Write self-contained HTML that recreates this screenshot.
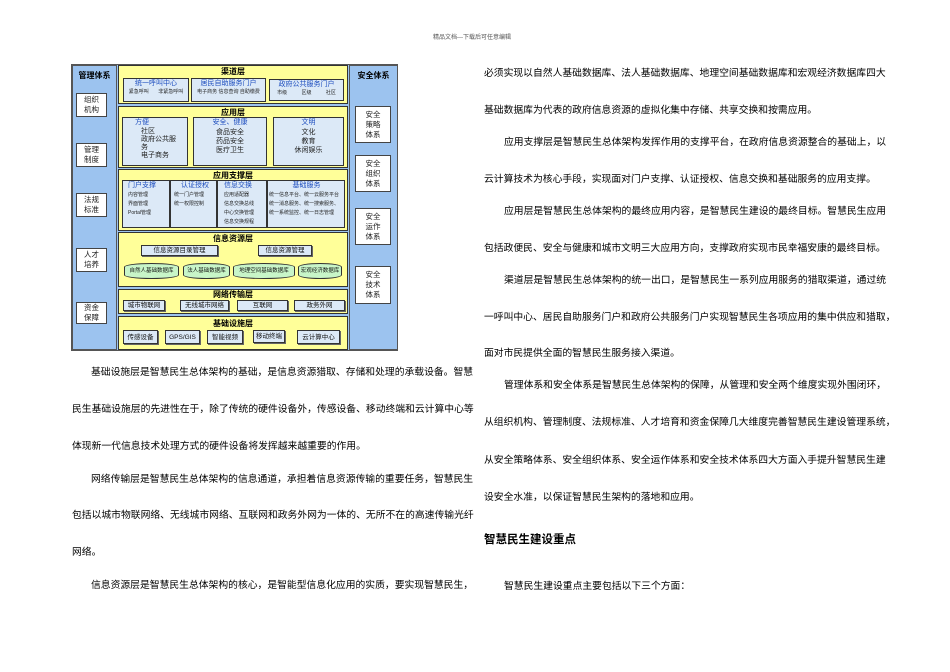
<!DOCTYPE html>
<html><head><meta charset="utf-8">
<style>
*{margin:0;padding:0;box-sizing:border-box}
body{width:950px;height:672px;background:#fff;position:relative;overflow:hidden;font-family:"Liberation Sans","Noto Sans CJK SC",sans-serif;color:#000}
.a{position:absolute}
.t{position:absolute;font-size:9.8px;line-height:12px;white-space:nowrap}
.col{background:#9cc3ef;border:1px solid #555}
.wb{position:absolute;background:#fff;border:1px solid #444;font-size:7.5px;line-height:10px;text-align:center;display:flex;align-items:center;justify-content:center;color:#222}
.ly{position:absolute;background:#ffff99;border:1.5px solid #333}
.lt{position:absolute;left:0;right:0;text-align:center;font-size:8px;font-weight:bold;line-height:10px}
.sb{position:absolute;background:#dce9f7;border:1px solid #333;font-size:5px;line-height:7px;color:#222}
.sh{font-size:7px;color:#1f4fbf;text-align:center;line-height:10px}
.bt{position:absolute;background:#dce9f7;border:1px solid #333;font-size:6.5px;text-align:center;line-height:10px;color:#111;box-shadow:1px 1px 0 #666}
.cy{position:absolute;background:#c8f5c8;border:1px solid #333;border-radius:50%/4px;font-size:5.5px;text-align:center;line-height:14px;color:#111;white-space:nowrap;overflow:hidden}
</style></head><body>
<div class="t" style="left:433px;top:32px;font-size:6px;color:#555">精品文档---下载后可任意编辑</div>

<!-- diagram -->
<div class="a" style="left:71px;top:64px;width:327px;height:287px;border:1px solid #555;background:#9cc3ef"></div>
<div class="a col" style="left:72px;top:65px;width:45px;height:285px"></div>
<div class="a" style="left:72px;top:70px;width:45px;text-align:center;font-size:8px;font-weight:bold">管理体系</div>
<div class="wb" style="left:76px;top:93px;width:31px;height:24px">组织<br>机构</div>
<div class="wb" style="left:76px;top:143px;width:31px;height:24px">管理<br>制度</div>
<div class="wb" style="left:76px;top:193px;width:31px;height:24px">法规<br>标准</div>
<div class="wb" style="left:76px;top:248px;width:31px;height:24px">人才<br>培养</div>
<div class="wb" style="left:76px;top:302px;width:31px;height:22px">资金<br>保障</div>

<div class="a col" style="left:349px;top:65px;width:49px;height:285px"></div>
<div class="a" style="left:349px;top:70px;width:49px;text-align:center;font-size:8px;font-weight:bold">安全体系</div>
<div class="wb" style="left:355px;top:106px;width:36px;height:37px">安全<br>策略<br>体系</div>
<div class="wb" style="left:355px;top:155px;width:36px;height:37px">安全<br>组织<br>体系</div>
<div class="wb" style="left:355px;top:208px;width:36px;height:37px">安全<br>运作<br>体系</div>
<div class="wb" style="left:355px;top:266px;width:36px;height:38px">安全<br>技术<br>体系</div>

<!-- 渠道层 -->
<div class="ly" style="left:118px;top:65px;width:230px;height:39px"><div class="lt" style="top:1px">渠道层</div></div>
<div class="sb" style="left:123px;top:78px;width:66px;height:24px"><div class="sh">统一呼叫中心</div><div style="display:flex;justify-content:space-around">
<span>紧急呼叫</span><span>非紧急呼叫</span></div></div>
<div class="sb" style="left:191px;top:78px;width:75px;height:24px"><div class="sh">居民自助服务门户</div><div style="text-align:center">电子商务 信息查询 自助缴费</div></div>
<div class="sb" style="left:269px;top:79px;width:75px;height:22px"><div class="sh">政府公共服务门户</div><div style="display:flex;justify-content:space-around"><span>市级</span><span>区级</span><span>社区</span></div></div>

<!-- 应用层 -->
<div class="ly" style="left:118px;top:106px;width:230px;height:62px"><div class="lt" style="top:1px">应用层</div></div>
<div class="sb" style="left:122px;top:117px;width:66px;height:49px;font-size:7px;line-height:8px"><div class="sh" style="text-align:left;padding-left:12px">方便</div><div style="padding-left:18px">社区<br>政府公共服<br>务<br>电子商务</div></div>
<div class="sb" style="left:193px;top:117px;width:74px;height:49px;font-size:7px;line-height:9px;text-align:center"><div class="sh">安全、健康</div>食品安全<br>药品安全<br>医疗卫生</div>
<div class="sb" style="left:273px;top:117px;width:71px;height:49px;font-size:7px;line-height:9px;text-align:center"><div class="sh">文明</div>文化<br>教育<br>休闲娱乐</div>

<!-- 应用支撑层 -->
<div class="ly" style="left:118px;top:169px;width:230px;height:62px"><div class="lt" style="top:1px">应用支撑层</div></div>
<div class="sb" style="left:122px;top:180px;width:48px;height:48px;line-height:9px;padding-left:5px"><div class="sh" style="text-align:left">门户支撑</div>内容管理<br>界面管理<br>Portal管理</div>
<div class="sb" style="left:170px;top:180px;width:47px;height:48px;line-height:9px;padding-left:3px"><div class="sh">认证授权</div>统一门户管理<br>统一权限控制</div>
<div class="sb" style="left:217px;top:180px;width:50px;height:48px;line-height:9px;padding-left:6px"><div class="sh" style="text-align:left">信息交换</div>应用适配器<br>信息交换总线<br>中心交换管理<br>信息交换规程</div>
<div class="sb" style="left:267px;top:180px;width:78px;height:48px;line-height:9px;padding-left:1px"><div class="sh">基础服务</div>统一信息平台、统一云服务平台<br>统一消息服务、统一搜索服务、<br>统一系统监控、统一日志管理</div>

<!-- 信息资源层 -->
<div class="ly" style="left:118px;top:232px;width:230px;height:55px"><div class="lt" style="top:1px">信息资源层</div></div>
<div class="bt" style="left:141px;top:245px;width:77px;height:11px">信息资源目录管理</div>
<div class="bt" style="left:258px;top:245px;width:54px;height:11px">信息资源管理</div>
<div class="cy" style="left:124px;top:263px;width:55px;height:16px">自然人基础数据库</div>
<div class="cy" style="left:183px;top:263px;width:47px;height:16px">法人基础数据库</div>
<div class="cy" style="left:233px;top:263px;width:62px;height:16px">地理空间基础数据库</div>
<div class="cy" style="left:298px;top:263px;width:44px;height:16px">宏观经济数据库</div>

<!-- 网络传输层 -->
<div class="ly" style="left:118px;top:289px;width:230px;height:25px"><div class="lt" style="top:0px">网络传输层</div></div>
<div class="bt" style="left:123px;top:300px;width:42px;height:11px">城市物联网</div>
<div class="bt" style="left:180px;top:300px;width:49px;height:11px">无线城市网络</div>
<div class="bt" style="left:237px;top:300px;width:51px;height:11px">互联网</div>
<div class="bt" style="left:294px;top:300px;width:51px;height:11px">政务外网</div>

<!-- 基础设施层 -->
<div class="ly" style="left:118px;top:316px;width:230px;height:34px"><div class="lt" style="top:2px">基础设施层</div></div>
<div class="bt" style="left:123px;top:330px;width:35px;height:14px;line-height:13px">传感设备</div>
<div class="bt" style="left:165px;top:330px;width:35px;height:14px;line-height:13px">GPS/GIS</div>
<div class="bt" style="left:207px;top:330px;width:36px;height:14px;line-height:13px">智能视频</div>
<div class="bt" style="left:253px;top:330px;width:32px;height:13px;line-height:12px">移动终端</div>
<div class="bt" style="left:297px;top:330px;width:43px;height:14px;line-height:13px">云计算中心</div>

<!-- left text -->
<div class="t" style="left:91px;top:367px">基础设施层是智慧民生总体架构的基础，是信息资源猎取、存储和处理的承载设备。智慧</div>
<div class="t" style="left:72px;top:404px">民生基础设施层的先进性在于，除了传统的硬件设备外，传感设备、移动终端和云计算中心等</div>
<div class="t" style="left:72px;top:441px">体现新一代信息技术处理方式的硬件设备将发挥越来越重要的作用。</div>
<div class="t" style="left:91px;top:474px">网络传输层是智慧民生总体架构的信息通道，承担着信息资源传输的重要任务，智慧民生</div>
<div class="t" style="left:72px;top:510px">包括以城市物联网络、无线城市网络、互联网和政务外网为一体的、无所不在的高速传输光纤</div>
<div class="t" style="left:72px;top:547px">网络。</div>
<div class="t" style="left:91px;top:580px">信息资源层是智慧民生总体架构的核心，是智能型信息化应用的实质，要实现智慧民生，</div>

<!-- right text -->
<div class="t" style="left:484px;top:68px">必须实现以自然人基础数据库、法人基础数据库、地理空间基础数据库和宏观经济数据库四大</div>
<div class="t" style="left:484px;top:105px">基础数据库为代表的政府信息资源的虚拟化集中存储、共享交换和按需应用。</div>
<div class="t" style="left:504px;top:137px">应用支撑层是智慧民生总体架构发挥作用的支撑平台，在政府信息资源整合的基础上，以</div>
<div class="t" style="left:484px;top:174px">云计算技术为核心手段，实现面对门户支撑、认证授权、信息交换和基础服务的应用支撑。</div>
<div class="t" style="left:504px;top:206px">应用层是智慧民生总体架构的最终应用内容，是智慧民生建设的最终目标。智慧民生应用</div>
<div class="t" style="left:484px;top:243px">包括政便民、安全与健康和城市文明三大应用方向，支撑政府实现市民幸福安康的最终目标。</div>
<div class="t" style="left:504px;top:275px">渠道层是智慧民生总体架构的统一出口，是智慧民生一系列应用服务的猎取渠道，通过统</div>
<div class="t" style="left:484px;top:312px">一呼叫中心、居民自助服务门户和政府公共服务门户实现智慧民生各项应用的集中供应和猎取，</div>
<div class="t" style="left:484px;top:348px">面对市民提供全面的智慧民生服务接入渠道。</div>
<div class="t" style="left:504px;top:380px">管理体系和安全体系是智慧民生总体架构的保障，从管理和安全两个维度实现外围闭环，</div>
<div class="t" style="left:484px;top:417px">从组织机构、管理制度、法规标准、人才培育和资金保障几大维度完善智慧民生建设管理系统，</div>
<div class="t" style="left:484px;top:455px">从安全策略体系、安全组织体系、安全运作体系和安全技术体系四大方面入手提升智慧民生建</div>
<div class="t" style="left:484px;top:492px">设安全水准，以保证智慧民生架构的落地和应用。</div>
<div class="t" style="left:484px;top:533px;font-size:11.5px;line-height:14px;font-weight:bold">智慧民生建设重点</div>
<div class="t" style="left:504px;top:581px">智慧民生建设重点主要包括以下三个方面：</div>
</body></html>
